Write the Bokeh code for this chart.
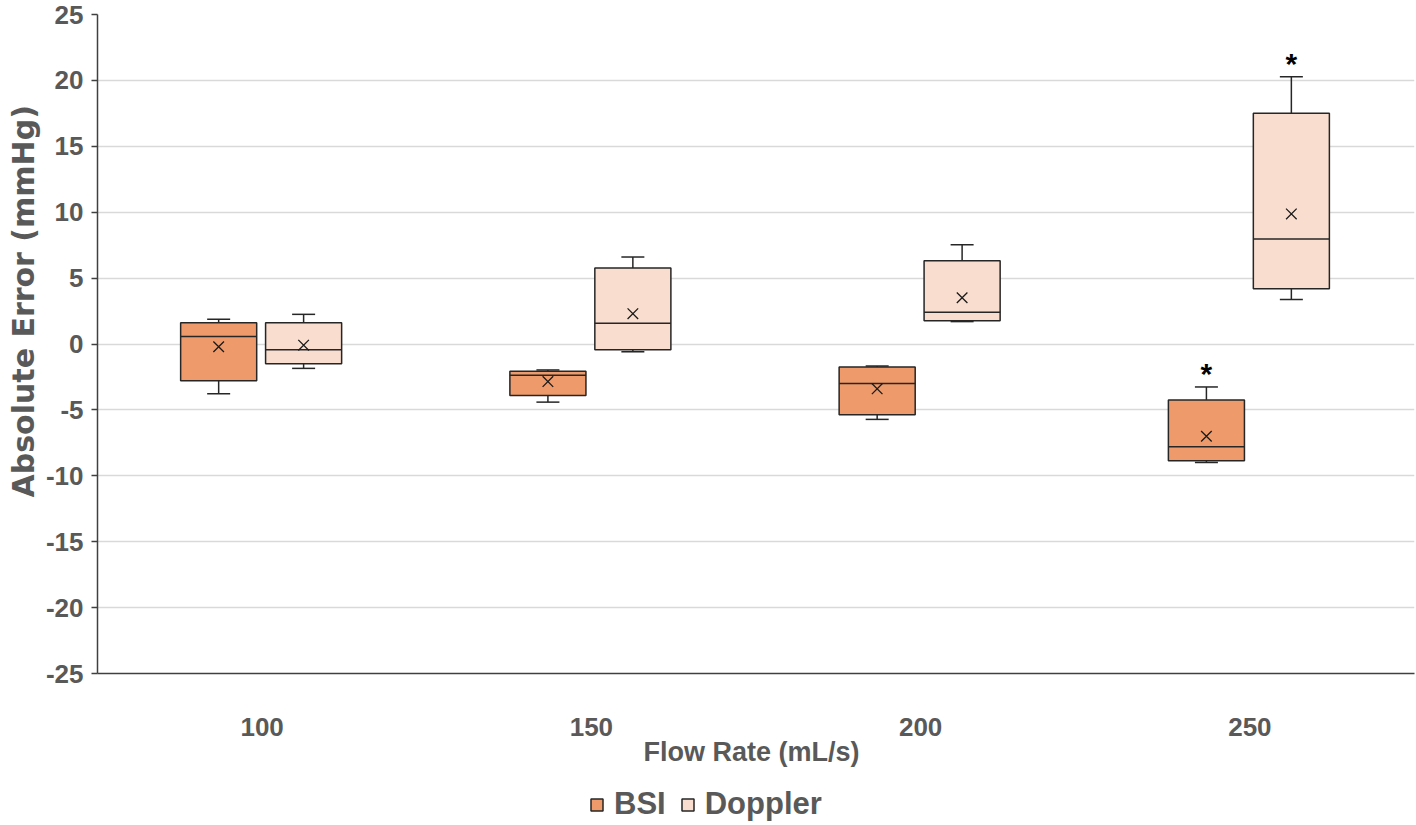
from bokeh.plotting import figure
from bokeh.layouts import column
from bokeh.models import ColumnDataSource, FactorRange, Range1d, FixedTicker, Legend, LegendItem, Title
from bokeh.transform import dodge
from bokeh.embed import file_html
from bokeh.resources import INLINE
from bokeh.core.properties import value

# ---- data ----
flow_rates = ["100", "150", "200", "250"]

bsi_whisker_low = [-3.78, -4.41, -5.72, -8.99]
bsi_q1 = [-2.78, -3.91, -5.37, -8.86]
bsi_median = [0.57, -2.38, -3.0, -7.8]
bsi_q3 = [1.62, -2.07, -1.75, -4.24]
bsi_whisker_high = [1.87, -1.97, -1.67, -3.26]
bsi_mean = [-0.21, -2.85, -3.4, -7.0]

dop_whisker_low = [-1.85, -0.59, 1.7, 3.38]
dop_q1 = [-1.5, -0.44, 1.77, 4.19]
dop_median = [-0.44, 1.57, 2.4, 7.96]
dop_q3 = [1.62, 5.77, 6.32, 17.51]
dop_whisker_high = [2.25, 6.6, 7.53, 20.27]
dop_mean = [-0.09, 2.3, 3.51, 9.87]

significant_bsi = [False, False, False, True]
significant_dop = [False, False, False, True]

series_names = ["BSI", "Doppler"]
y_ticks = [-25, -20, -15, -10, -5, 0, 5, 10, 15, 20, 25]

GRAY = "#595959"
FONT = "Liberation Sans"
colors = {"BSI": "#EF9A6A", "Doppler": "#F9DDCE"}
OUTLINE = "#262626"

p = figure(width=1416, height=775, x_range=FactorRange(*flow_rates),
           y_range=Range1d(-25, 25), output_backend="svg", toolbar_location=None,
           min_border_left=97, min_border_right=2, min_border_top=14, min_border_bottom=102)
p.outline_line_color = None
p.background_fill_color = "white"

# axes
p.yaxis.ticker = FixedTicker(ticks=y_ticks)
p.yaxis.major_label_overrides = {t: str(t) for t in y_ticks}
for ax in (p.xaxis[0], p.yaxis[0]):
    ax.major_label_text_font = FONT
    ax.major_label_text_font_style = "bold"
    ax.major_label_text_font_size = "26px"
    ax.major_label_text_color = GRAY
    ax.axis_line_color = "#404040"
    ax.axis_line_width = 1.5
    ax.minor_tick_line_color = None
p.yaxis.major_tick_out = 6
p.yaxis.major_tick_in = 0
p.yaxis.major_tick_line_color = "#404040"
p.yaxis.major_tick_line_width = 1.5
p.yaxis.major_label_standoff = 8
p.xaxis.major_tick_line_color = None
p.xaxis.major_tick_out = 0
p.xaxis.major_tick_in = 0
p.xaxis.major_label_standoff = 44

ytitle = Title(text="Absolute Error (mmHg)", align="left", offset=176,
               text_font="DejaVu Sans", text_font_style="bold", text_font_size="30px",
               text_color=GRAY, standoff=4)
p.add_layout(ytitle, "left")
xtitle = Title(text="Flow Rate (mL/s)", align="left", offset=546,
               text_font=FONT, text_font_style="bold", text_font_size="27px",
               text_color=GRAY, standoff=-8)
p.add_layout(xtitle, "below")

p.xgrid.grid_line_color = None
p.ygrid.grid_line_color = "#D9D9D9"
p.ygrid.grid_line_width = 1.5

BW = 0.231
offsets = {"BSI": -0.132, "Doppler": 0.126}

for name, wl, q1, med, q3, wh, mn, sig in [
    ("BSI", bsi_whisker_low, bsi_q1, bsi_median, bsi_q3, bsi_whisker_high, bsi_mean, significant_bsi),
    ("Doppler", dop_whisker_low, dop_q1, dop_median, dop_q3, dop_whisker_high, dop_mean, significant_dop),
]:
    off = offsets[name]
    src = ColumnDataSource(dict(cat=flow_rates, wl=wl, q1=q1, med=med, q3=q3, wh=wh, mn=mn))
    xc = dodge("cat", off, range=p.x_range)
    # whiskers
    p.segment(x0=xc, y0="wl", x1=xc, y1="q1", source=src, line_color=OUTLINE, line_width=1.5)
    p.segment(x0=xc, y0="q3", x1=xc, y1="wh", source=src, line_color=OUTLINE, line_width=1.5)
    p.scatter(x=xc, y="wl", source=src, marker="dash", size=23, line_color=OUTLINE, line_width=1.5)
    p.scatter(x=xc, y="wh", source=src, marker="dash", size=23, line_color=OUTLINE, line_width=1.5)
    # box
    p.vbar(x=xc, width=BW, top="q3", bottom="q1", source=src,
           fill_color=colors[name], line_color=OUTLINE, line_width=1.5)
    # median
    p.segment(x0=dodge("cat", off - BW / 2, range=p.x_range), y0="med",
              x1=dodge("cat", off + BW / 2, range=p.x_range), y1="med",
              source=src, line_color=OUTLINE, line_width=1.5)
    # mean
    p.scatter(x=xc, y="mn", source=src, marker="x", size=15, line_color="#1a1a1a", line_width=1.3)
    # significance
    cats = [c for c, s in zip(flow_rates, sig) if s]
    tops = [w for w, s in zip(wh, sig) if s]
    if cats:
        ssrc = ColumnDataSource(dict(cat=cats, y=tops))
        p.text(x=xc, y="y", text=value("*"), source=ssrc, text_font=value(FONT),
               text_font_style="bold", text_font_size="30px", text_color="black",
               text_align="center", text_baseline="alphabetic", y_offset=-13)

# ---- legend strip below the chart ----
lg = figure(width=1416, height=50, x_range=(0, 1), y_range=(0, 1), output_backend="svg",
            toolbar_location=None, min_border=0)
lg.axis.visible = False
lg.grid.grid_line_color = None
lg.outline_line_color = None
items = []
for n in series_names:
    # swatch-only renderer: its single bar has no extent, so nothing is drawn in the plot
    r = lg.vbar(x=[0.5], top=[float("nan")], bottom=[float("nan")], width=0.1,
                fill_color=colors[n], line_color=OUTLINE, line_width=1.5)
    items.append(LegendItem(label=n, renderers=[r]))
legend = Legend(items=items, orientation="horizontal", location=(492, 3),
                label_text_font=FONT, label_text_font_style="bold", label_text_font_size="31px",
                label_text_color=GRAY, glyph_width=15, glyph_height=15, label_standoff=10,
                spacing=14, padding=2, margin=0, border_line_color=None,
                background_fill_alpha=0)
lg.add_layout(legend, "center")

layout = column(p, lg, spacing=0)
open("out.html", "w").write(file_html(layout, INLINE))
